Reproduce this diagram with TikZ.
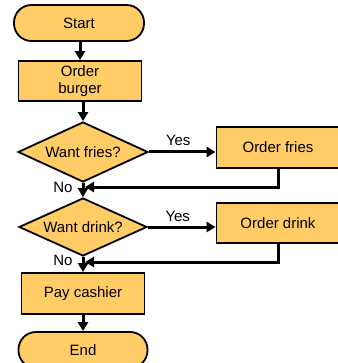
\documentclass[tikz,border=0pt]{standalone}
\usepackage{fontspec}
\setmainfont{Liberation Sans}
\usetikzlibrary{arrows.meta,shapes.geometric}
\definecolor{boxfill}{RGB}{255,204,102}
\begin{document}
\begin{tikzpicture}[x=1pt,y=-1pt,
  every node/.style={font=\fontsize{15}{17}\selectfont},
  term/.style={draw=black,line width=1.8pt,fill=boxfill,rounded corners=17.5pt,minimum width=#1,minimum height=36pt,inner sep=0pt},
  proc/.style={draw=black,line width=1.8pt,fill=boxfill,minimum width=123pt,minimum height=41pt,inner sep=0pt,align=center},
  decide/.style={draw=black,line width=1.8pt,fill=boxfill,diamond,aspect=2.4,minimum width=130pt,minimum height=60pt,inner sep=0pt},
  flow/.style={line width=3pt,-{Triangle[length=9pt,width=10pt]}},
  lbl/.style={inner sep=0pt}]
\useasboundingbox (0,0) rectangle (337,363);
\node[term=130pt] (start) at (79,23) {Start};
\node[proc,minimum height=40pt,font=\fontsize{15}{17}\selectfont] (burger) at (80,81) {Order\\burger};
\node[decide] (fries) at (83,152) {Want fries?};
\node[proc] (ofries) at (278,147.5) {Order fries};
\node[decide,minimum width=128pt,minimum height=58pt] (drink) at (83,227) {Want drink?};
\node[proc,minimum height=40pt] (odrink) at (278,223) {Order drink};
\node[proc] (pay) at (83,293.5) {Pay cashier};
\node[term=129pt] (end) at (83,350) {End};
\coordinate (j1) at (85,187);
\coordinate (j2) at (85,262);
\draw[flow] (start.south -| burger.north) -- (burger.north);
\draw[flow] (fries.north |- burger.south) -- (fries.north);
\draw[flow] (fries.east) -- (fries.east -| ofries.west) node[lbl,midway,above=5pt,xshift=-4pt] (y1) {Yes};
\draw[flow,line join=miter] (ofries.south) |- (j1);
\draw[flow] (fries.south) -- (drink.north);
\node[lbl] (n1) at (63,187) {No};
\draw[flow] (drink.east) -- (drink.east -| odrink.west) node[lbl,midway,above=4pt,xshift=-4pt] (y2) {Yes};
\draw[flow,line join=miter] (odrink.south) |- (j2);
\draw[flow] (drink.south) -- (pay.north);
\node[lbl] (n2) at (63,260) {No};
\draw[flow] (pay.south) -- (end.north);
\end{tikzpicture}
\end{document}
